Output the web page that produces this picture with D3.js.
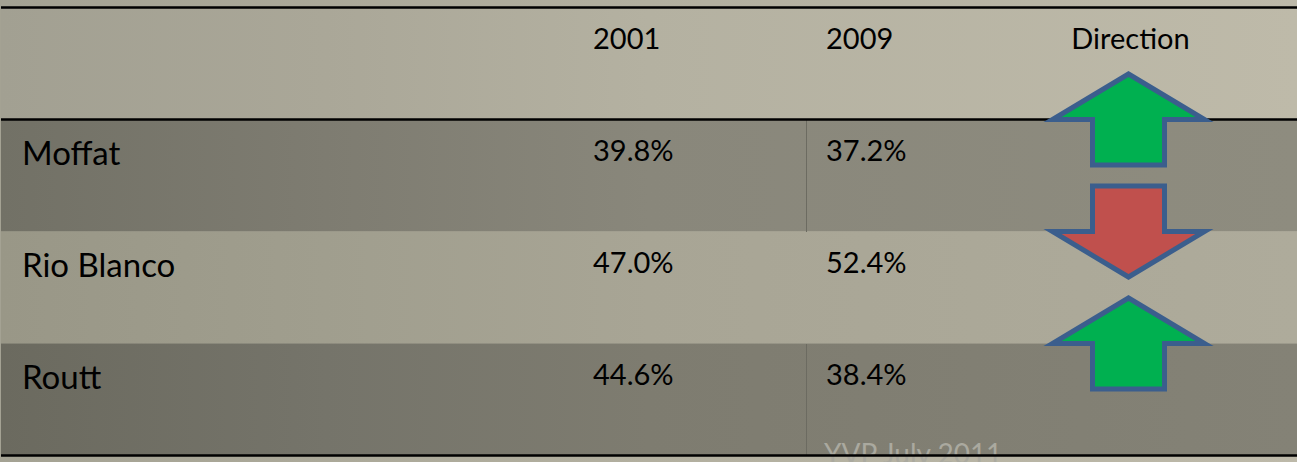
<!DOCTYPE html>
<html>
<head>
<meta charset="utf-8">
<script src="https://cdn.jsdelivr.net/npm/d3@7/dist/d3.min.js"></script>
<style>
  html, body { margin: 0; padding: 0; background: #b1ae9e; }
  svg { display: block; }
  text { font-family: Lato, "Noto Sans", sans-serif; fill: #000; }
</style>
</head>
<body>
<svg id="chart" width="1297" height="462"></svg>
<script>
// ---- data ----
const categories = ["Moffat", "Rio Blanco", "Routt"];
const values2001 = [39.8, 47.0, 44.6];
const values2009 = [37.2, 52.4, 38.4];
const headerLabels = ["", "2001", "2009", "Direction"];
const footerText = "YVP July 2011";

// ---- layout ----
const W = 1297, H = 462;
const svg = d3.select("#chart");
const defs = svg.append("defs");

function hGrad(id, stops) {
  const g = defs.append("linearGradient").attr("id", id)
    .attr("x1", "0%").attr("x2", "100%").attr("y1", "0%").attr("y2", "0%");
  stops.forEach(([o, c]) => g.append("stop").attr("offset", o).attr("stop-color", c));
}
hGrad("bgGrad",   [["0%", "#a4a293"], ["50%", "#b2af9f"], ["100%", "#bdb9a9"]]);
hGrad("hdrGrad",  [["0%", "#a2a092"], ["25%", "#aaa798"], ["50%", "#b4b1a1"], ["100%", "#bebaa9"]]);
hGrad("darkA",    [["0%", "#727166"], ["25%", "#7e7c71"], ["50%", "#89877b"], ["100%", "#8e8c7f"]]);
hGrad("lightA",   [["0%", "#999787"], ["25%", "#a09e8e"], ["50%", "#a8a595"], ["100%", "#aeab9b"]]);
hGrad("darkB",    [["0%", "#6b6a5f"], ["25%", "#75746a"], ["50%", "#7e7c70"], ["100%", "#848276"]]);

svg.append("rect").attr("width", W).attr("height", H).attr("fill", "url(#bgGrad)");

const rowKeys = ["__header__", ...categories];
const y = d3.scaleBand().domain(rowKeys).range([7.5, 455.5]).paddingInner(0).paddingOuter(0);

const columns = ["label", "v2001", "v2009", "direction"];
const colLeft = d3.scaleOrdinal().domain(columns).range([2, 573, 806, 960]);
const colRight = d3.scaleOrdinal().domain(columns).range([573, 806, 960, 1297]);
const textPad = 20;

const fills = ["url(#hdrGrad)", "url(#darkA)", "url(#lightA)", "url(#darkB)"];
svg.append("g").selectAll("rect").data(rowKeys).join("rect")
  .attr("x", 1).attr("width", W - 1)
  .attr("y", d => y(d)).attr("height", y.bandwidth())
  .attr("fill", (d, i) => fills[i]);

// vertical divider between 2001 and 2009 in dark rows
svg.append("g").selectAll("line").data(categories.filter((d, i) => i % 2 === 0)).join("line")
  .attr("x1", colLeft("v2009")).attr("x2", colLeft("v2009"))
  .attr("y1", d => y(d)).attr("y2", d => y(d) + y.bandwidth())
  .attr("stroke", "#6c6b61").attr("stroke-width", 1).attr("shape-rendering", "crispEdges");

// header labels
const hdr = svg.append("g");
hdr.selectAll("text").data(columns.slice(1)).join("text")
  .attr("x", (d, i) => d === "direction" ? (colLeft(d) + colRight(d)) / 2 + 2 : colLeft(d) + textPad)
  .attr("y", y("__header__") + 41)
  .attr("text-anchor", d => d === "direction" ? "middle" : "start")
  .attr("font-size", 29)
  .text((d, i) => headerLabels[i + 1]);

// row labels
svg.append("g").selectAll("text").data(categories).join("text")
  .attr("x", colLeft("label") + textPad)
  .attr("y", d => y(d) + 45.5)
  .attr("font-size", 33)
  .text(d => d);

// values
const fmt = v => d3.format(".1f")(v) + "%";
const valRows = categories.map((c, i) => ({ c, v1: values2001[i], v2: values2009[i] }));
const vg = svg.append("g");
vg.selectAll("text.v1").data(valRows).join("text").attr("class", "v1")
  .attr("x", colLeft("v2001") + textPad).attr("y", d => y(d.c) + 41)
  .attr("font-size", 29).text(d => fmt(d.v1));
vg.selectAll("text.v2").data(valRows).join("text").attr("class", "v2")
  .attr("x", colLeft("v2009") + textPad).attr("y", d => y(d.c) + 41)
  .attr("font-size", 29).text(d => fmt(d.v2));

// footer watermark (under the bottom line)
svg.append("text")
  .attr("x", colLeft("v2009") + 18).attr("y", 464)
  .attr("font-size", 28).style("fill", "#aaa99f")
  .text(footerText);

// horizontal rules
const rules = [y("__header__"), y(categories[0]), y.range()[1]];
svg.append("g").selectAll("line").data(rules).join("line")
  .attr("x1", 1).attr("x2", W).attr("y1", d => d).attr("y2", d => d)
  .attr("stroke", "#000").attr("stroke-width", 2.6);

// direction arrows: decrease -> green up arrow, increase -> red down arrow
const arrowHalfH = 45.5, headHalfW = 76, shaftHalfW = 36;
const upShape = [[0, -arrowHalfH], [headHalfW, 0], [shaftHalfW, 0], [shaftHalfW, arrowHalfH],
                 [-shaftHalfW, arrowHalfH], [-shaftHalfW, 0], [-headHalfW, 0]];
const line = d3.line().curve(d3.curveLinearClosed);
const cx = (colLeft("direction") + colRight("direction")) / 2;
svg.append("g").selectAll("path").data(valRows).join("path")
  .attr("d", d => {
    const up = d.v2 < d.v1;
    const cy = y(d.c);
    return line(upShape.map(([px, py]) => [cx + px, cy + (up ? py : -py)]));
  })
  .attr("fill", d => d.v2 < d.v1 ? "#00b050" : "#c0504d")
  .attr("stroke", "#3b5e8d").attr("stroke-width", 5).attr("stroke-linejoin", "miter");
</script>
</body>
</html>
